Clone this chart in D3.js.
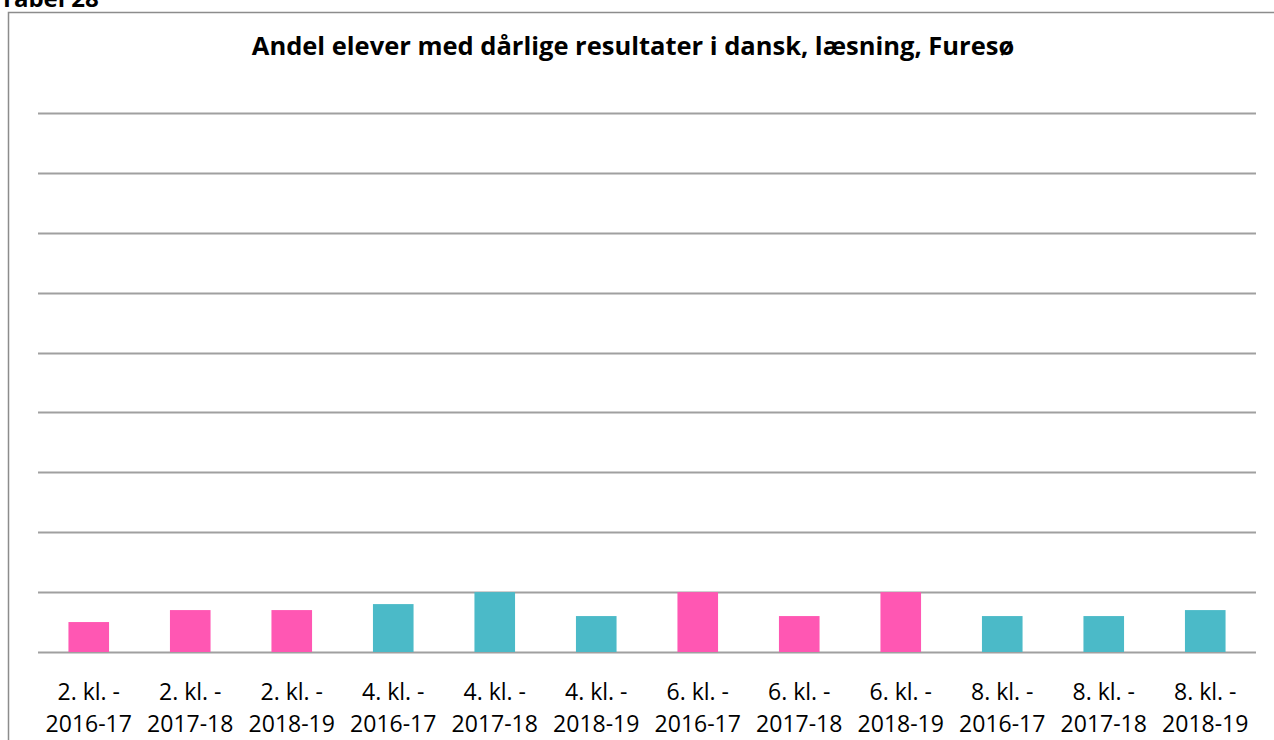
<!DOCTYPE html>
<html>
<head>
<meta charset="utf-8">
<script src="https://cdn.jsdelivr.net/npm/d3@7"></script>
<style>
  body { margin: 0; background: #fff; }
  svg { display: block; }
</style>
</head>
<body>
<div id="chart"></div>
<script>
var categories = [
  "2. kl. - 2016-17", "2. kl. - 2017-18", "2. kl. - 2018-19",
  "4. kl. - 2016-17", "4. kl. - 2017-18", "4. kl. - 2018-19",
  "6. kl. - 2016-17", "6. kl. - 2017-18", "6. kl. - 2018-19",
  "8. kl. - 2016-17", "8. kl. - 2017-18", "8. kl. - 2018-19"
];
var values = [5, 7, 7, 8, 10, 6, 10, 6, 10, 6, 6, 7];
var barColors = ["#ff57b3", "#ff57b3", "#ff57b3", "#4bbac8", "#4bbac8", "#4bbac8",
                 "#ff57b3", "#ff57b3", "#ff57b3", "#4bbac8", "#4bbac8", "#4bbac8"];
var yTicks = [0, 10, 20, 30, 40, 50, 60, 70, 80, 90];

var width = 1274, height = 740;
var svg = d3.select('#chart').append('svg')
    .attr('width', width)
    .attr('height', height);

// caption above the chart box, cut off by the top edge
svg.append('text')
    .attr('x', 0).attr('y', 7)
    .attr('font-family', 'Open Sans, sans-serif')
    .attr('font-weight', 'bold')
    .attr('font-size', 24)
    .text('Tabel 28');

// chart frame
svg.append('rect')
    .attr('x', 8.5).attr('y', 12.5)
    .attr('width', 1300).attr('height', 800)
    .attr('fill', '#fff')
    .attr('stroke', '#8c8c8c')
    .attr('stroke-width', 1.5);

svg.append('text')
    .attr('x', 633).attr('y', 55)
    .attr('text-anchor', 'middle')
    .attr('font-family', 'Open Sans, sans-serif')
    .attr('font-weight', 'bold')
    .attr('font-size', 25.5)
    .text('Andel elever med dårlige resultater i dansk, læsning, Furesø');

var x = d3.scaleBand()
    .domain(categories)
    .range([38, 1256])
    .paddingInner(0.6)
    .paddingOuter(0.3);

var y = d3.scaleLinear()
    .domain([0, 90])
    .range([652, 113]);

var g = svg.append('g');

g.selectAll('line.grid')
    .data(yTicks)
    .enter().append('line')
    .attr('class', 'grid')
    .attr('x1', 38).attr('x2', 1256)
    .attr('y1', function(d) { return Math.round(y(d)) + 0.5; })
    .attr('y2', function(d) { return Math.round(y(d)) + 0.5; })
    .attr('stroke', '#a0a0a0')
    .attr('stroke-width', 2);

g.selectAll('rect.bar')
    .data(values)
    .enter().append('rect')
    .attr('class', 'bar')
    .attr('x', function(d, i) { return x(categories[i]); })
    .attr('width', x.bandwidth())
    .attr('y', function(d) { return y(d); })
    .attr('height', function(d) { return y(0) - y(d); })
    .attr('fill', function(d, i) { return barColors[i]; });

var labels = g.selectAll('text.cat')
    .data(categories)
    .enter().append('text')
    .attr('class', 'cat')
    .attr('text-anchor', 'middle')
    .attr('font-family', 'Open Sans, sans-serif')
    .attr('font-size', 23)
    .attr('fill', '#000')
    .attr('transform', function(d) { return 'translate(' + (x(d) + x.bandwidth() / 2) + ',0)'; });

labels.append('tspan')
    .attr('x', 0).attr('y', 700)
    .text(function(d) { return d.split(' - ')[0] + ' -'; });
labels.append('tspan')
    .attr('x', 0).attr('y', 732)
    .text(function(d) { return d.split(' - ')[1]; });
</script>
</body>
</html>
